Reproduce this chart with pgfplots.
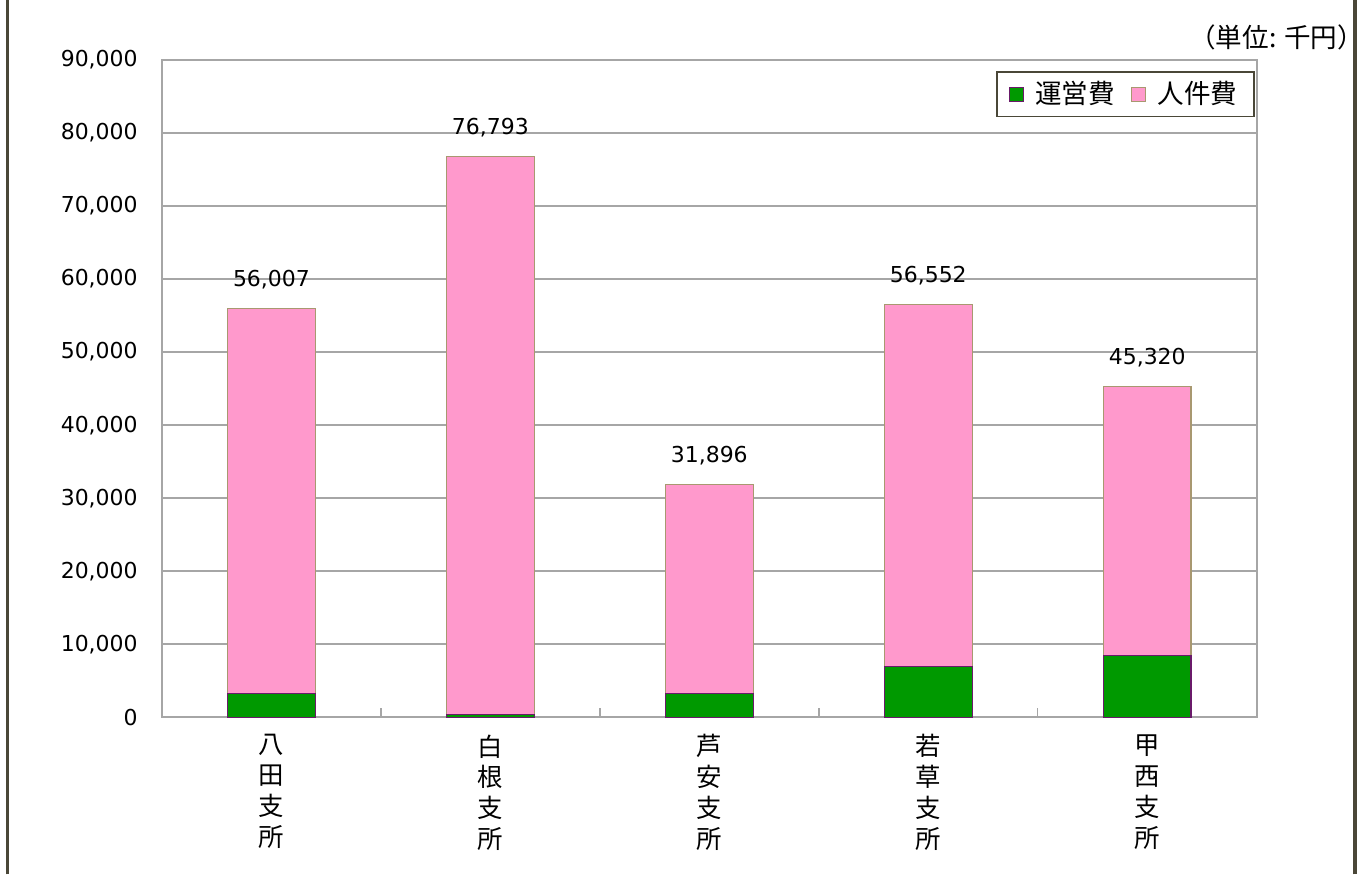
\documentclass[border=0pt]{standalone}
\usepackage{fontspec}
\setmainfont{DejaVu Sans}
\newfontfamily\cjk{Noto Sans CJK JP}
\usepackage{pgfplots}
\pgfplotsset{compat=1.18}

\definecolor{unei}{HTML}{009900}
\definecolor{jinken}{HTML}{FF99CC}
\definecolor{uneiedge}{HTML}{6A1A6A}
\definecolor{jinkenedge}{HTML}{A89870}
\definecolor{framec}{HTML}{4A4738}
\definecolor{gridc}{HTML}{A6A6A6}

\pgfplotstableread{
x unei
0 3300
1 400
2 3300
3 7000
4 8500
}\uneitable

\pgfplotstableread{
x jinken total label
0 52707 56007 56,007
1 76393 76793 76,793
2 28596 31896 31,896
3 49552 56552 56,552
4 36820 45320 45,320
}\jinkentable

\begin{document}
\begin{tikzpicture}
\pgfplotsset{
    commonax/.style={
        scale only axis,
        width=474pt, height=284.5pt,
        xmin=-0.5, xmax=4.5,
        ymin=0, ymax=90000,
    }
}
\begin{axis}[
    name=ax,
    commonax,
    ybar stacked,
    bar width=0.4,
    ytick distance=10000,
    xtick={0,...,4},
    xticklabels={{八\\田\\支\\所},{白\\根\\支\\所},{芦\\安\\支\\所},{若\\草\\支\\所},{甲\\西\\支\\所}},
    xticklabel style={align=center, font=\cjk\fontsize{11}{13.4}\selectfont, yshift=-4pt},
    minor xtick={0.5,1.5,2.5,3.5},
    major tick length=0pt,
    minor tick length=4pt,
    minor tick style={draw=gridc, line width=0.6pt},
    tick pos=left,
    tick align=inside,
    ymajorgrids,
    grid style={draw=gridc, line width=0.8pt},
    axis line style={draw=gridc, line width=0.8pt},
    yticklabel style={font=\fontsize{9.5}{11}\selectfont, xshift=-7pt},
    /pgf/number format/.cd, 1000 sep={,}, assume math mode=true,
    /pgfplots/.cd,
    scaled y ticks=false,
    legend columns=-1,
    legend style={at={(0.998,0.983)}, anchor=north east, draw=framec, line width=0.8pt,
        font=\cjk\fontsize{11.5}{13}\selectfont, inner xsep=5pt, inner ysep=2pt,
        /tikz/every odd column/.append style={column sep=3pt},
        /tikz/every even column/.append style={column sep=5pt}},
    legend image code/.code={\draw[#1] (0pt,-3pt) rectangle (6pt,3pt);},
]
\addplot[fill=unei, draw=uneiedge, line width=0.5pt] table[x=x, y=unei] {\uneitable};
\addlegendentry{運営費}
\addplot[fill=jinken, draw=jinkenedge, line width=0.5pt] table[x=x, y=jinken] {\jinkentable};
\addlegendentry{人件費}
\end{axis}
\begin{axis}[commonax, hide axis]
\addplot[draw=none, mark=none,
    point meta=explicit symbolic,
    nodes near coords,
    nodes near coords style={anchor=south, yshift=5pt, font=\fontsize{9.5}{11}\selectfont, text=black}]
    table[x=x, y=total, meta=label] {\jinkentable};
\end{axis}
\node[anchor=east, font=\cjk\fontsize{11.5}{13}\selectfont] at ([shift={(524pt,294.4pt)}]ax.south west) {（単位: 千円）};
\draw[framec, line width=1.2pt] ([shift={(-66.7pt,-68pt)}]ax.south west) -- ([shift={(-66.7pt,310.5pt)}]ax.south west);
\draw[framec, line width=1.6pt] ([shift={(516.6pt,-68pt)}]ax.south west) -- ([shift={(516.6pt,310.5pt)}]ax.south west);
\pgfresetboundingbox
\useasboundingbox ([shift={(-70.1pt,-68pt)}]ax.south west) rectangle ([shift={(522.6pt,310.5pt)}]ax.south west);
\end{tikzpicture}
\end{document}
